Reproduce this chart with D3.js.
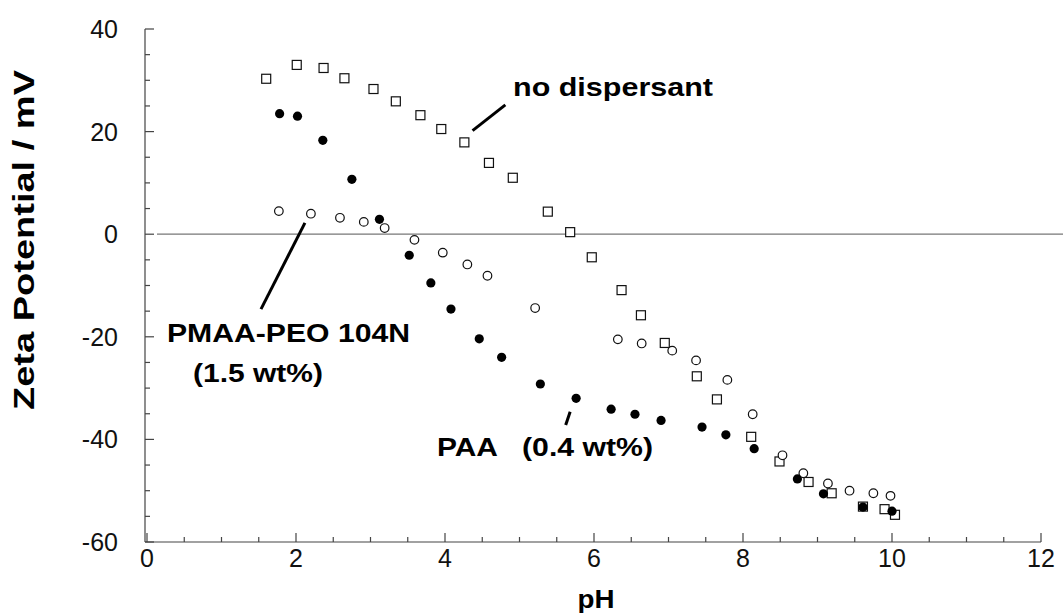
<!DOCTYPE html>
<html>
<head>
<meta charset="utf-8">
<script src="https://cdn.jsdelivr.net/npm/d3@7"></script>
<style>
  body { margin: 0; background: #fff; }
  svg { display: block; font-family: Arial, "Liberation Sans", Helvetica, sans-serif; }
</style>
</head>
<body>
<svg id="chart" width="1063" height="615"></svg>
<script>
// no dispersant (open squares)
var noDispPH = [1.60, 2.01, 2.37, 2.65, 3.04, 3.34, 3.67, 3.95, 4.26, 4.59, 4.91, 5.38, 5.68,
  5.97, 6.37, 6.63, 6.95, 7.38, 7.65, 8.11, 8.49, 8.88, 9.19, 9.61, 9.90, 10.04];
var noDispZeta = [30.3, 33.0, 32.4, 30.4, 28.3, 25.9, 23.2, 20.5, 17.9, 13.9, 11.0, 4.4, 0.4,
  -4.5, -10.9, -15.8, -21.2, -27.7, -32.2, -39.5, -44.3, -48.3, -50.5, -53.1, -53.6, -54.7];

// PAA 0.4 wt% (filled circles)
var paaPH = [1.78, 2.02, 2.36, 2.75, 3.12, 3.52, 3.81, 4.08, 4.46, 4.76, 5.28, 5.76, 6.23,
  6.55, 6.90, 7.45, 7.77, 8.15, 8.73, 9.08, 9.61, 10.00];
var paaZeta = [23.5, 23.0, 18.3, 10.7, 2.9, -4.1, -9.5, -14.6, -20.4, -24.0, -29.2, -32.0, -34.1,
  -35.1, -36.3, -37.6, -39.1, -41.8, -47.7, -50.6, -53.2, -54.0];

// PMAA-PEO 104N 1.5 wt% (open circles)
var pmaaPH = [1.77, 2.20, 2.59, 2.91, 3.19, 3.59, 3.97, 4.30, 4.57, 5.21, 6.32, 6.64, 7.05,
  7.37, 7.79, 8.13, 8.53, 8.81, 9.14, 9.43, 9.75, 9.98];
var pmaaZeta = [4.5, 4.0, 3.2, 2.4, 1.2, -1.1, -3.6, -5.9, -8.1, -14.4, -20.5, -21.3, -22.7,
  -24.6, -28.4, -35.1, -43.1, -46.6, -48.6, -50.0, -50.5, -51.0];

var xTicks = [0, 2, 4, 6, 8, 10, 12];
var yTicks = [-60, -40, -20, 0, 20, 40];

var svg = d3.select("#chart");

var x = d3.scaleLinear().domain([0, 12]).range([147, 1041]);
var y = d3.scaleLinear().domain([-60, 40]).range([542, 29]);

var axisColor = "#444";

// y axis: line + inward ticks
var yAxis = svg.append("g").attr("transform", "translate(145,0)");
yAxis.append("line").attr("x1", 0).attr("x2", 0).attr("y1", y(40)).attr("y2", y(-60))
  .attr("stroke", axisColor).attr("stroke-width", 1.2);
yAxis.selectAll(".minor").data(d3.range(-60, 41, 5)).enter().append("line")
  .attr("x1", 0).attr("x2", function(d) { return d % 20 === 0 ? 9 : 5; })
  .attr("y1", function(d) { return y(d); }).attr("y2", function(d) { return y(d); })
  .attr("stroke", axisColor).attr("stroke-width", 1.2);
yAxis.selectAll(".lab").data(yTicks).enter().append("text")
  .attr("x", -27).attr("y", function(d) { return y(d) + 9; })
  .attr("text-anchor", "end").attr("font-size", 25).attr("fill", "#111")
  .text(function(d) { return d; });

// x axis: line + inward ticks
var xAxis = svg.append("g").attr("transform", "translate(0,542)");
xAxis.append("line").attr("x1", 145).attr("x2", x(12)).attr("y1", 0).attr("y2", 0)
  .attr("stroke", axisColor).attr("stroke-width", 1.2);
xAxis.selectAll(".minor").data(d3.range(0, 12.01, 0.5)).enter().append("line")
  .attr("x1", function(d) { return x(d); }).attr("x2", function(d) { return x(d); })
  .attr("y1", 0).attr("y2", function(d) { return d % 2 === 0 ? -9 : -5; })
  .attr("stroke", axisColor).attr("stroke-width", 1.2);
xAxis.selectAll(".lab").data(xTicks).enter().append("text")
  .attr("x", function(d) { return x(d); }).attr("y", 25)
  .attr("text-anchor", "middle").attr("font-size", 25).attr("fill", "#111")
  .text(function(d) { return d; });

// zero line
svg.append("line").attr("x1", 157).attr("x2", 1063).attr("y1", y(0)).attr("y2", y(0))
  .attr("stroke", "#777").attr("stroke-width", 1.2);

// axis titles
svg.append("text").attr("x", 596).attr("y", 608).attr("text-anchor", "middle")
  .attr("font-size", 25).attr("font-weight", "bold")
  .attr("textLength", 37).attr("lengthAdjust", "spacingAndGlyphs").text("pH");
svg.append("text").attr("transform", "translate(34,240) rotate(-90)")
  .attr("text-anchor", "middle").attr("font-size", 29).attr("font-weight", "bold")
  .attr("textLength", 340).attr("lengthAdjust", "spacingAndGlyphs")
  .text("Zeta Potential / mV");

// data marks
var sq = 9;
svg.append("g").selectAll("rect").data(d3.zip(noDispPH, noDispZeta)).enter().append("rect")
  .attr("x", function(d) { return x(d[0]) - sq / 2; })
  .attr("y", function(d) { return y(d[1]) - sq / 2; })
  .attr("width", sq).attr("height", sq)
  .attr("fill", "#fff").attr("stroke", "#111").attr("stroke-width", 1.2);

svg.append("g").selectAll("circle").data(d3.zip(pmaaPH, pmaaZeta)).enter().append("circle")
  .attr("cx", function(d) { return x(d[0]); })
  .attr("cy", function(d) { return y(d[1]); })
  .attr("r", 4.3).attr("fill", "#fff").attr("stroke", "#111").attr("stroke-width", 1.2);

svg.append("g").selectAll("circle").data(d3.zip(paaPH, paaZeta)).enter().append("circle")
  .attr("cx", function(d) { return x(d[0]); })
  .attr("cy", function(d) { return y(d[1]); })
  .attr("r", 4.6).attr("fill", "#000");

// annotations
function leader(a, b, w) {
  svg.append("line").attr("x1", x(a[0])).attr("y1", y(a[1]))
    .attr("x2", x(b[0])).attr("y2", y(b[1]))
    .attr("stroke", "#000").attr("stroke-width", w);
}
function label(px, py, txt, len) {
  svg.append("text").attr("x", px).attr("y", py)
    .attr("font-size", 26).attr("font-weight", "bold").attr("fill", "#000")
    .attr("textLength", len).attr("lengthAdjust", "spacingAndGlyphs").text(txt);
}
leader([4.37, 20.2], [4.81, 25.2], 3);
leader([2.12, 2.2], [1.53, -14.6], 3);
leader([5.62, -37.2], [5.68, -34.6], 3);

label(513, 96, "no dispersant", 200);
label(167, 342, "PMAA-PEO 104N", 243);
label(193, 382, "(1.5 wt%)", 130);
label(437, 456, "PAA", 61);
label(522, 456, "(0.4 wt%)", 131);
</script>
</body>
</html>
